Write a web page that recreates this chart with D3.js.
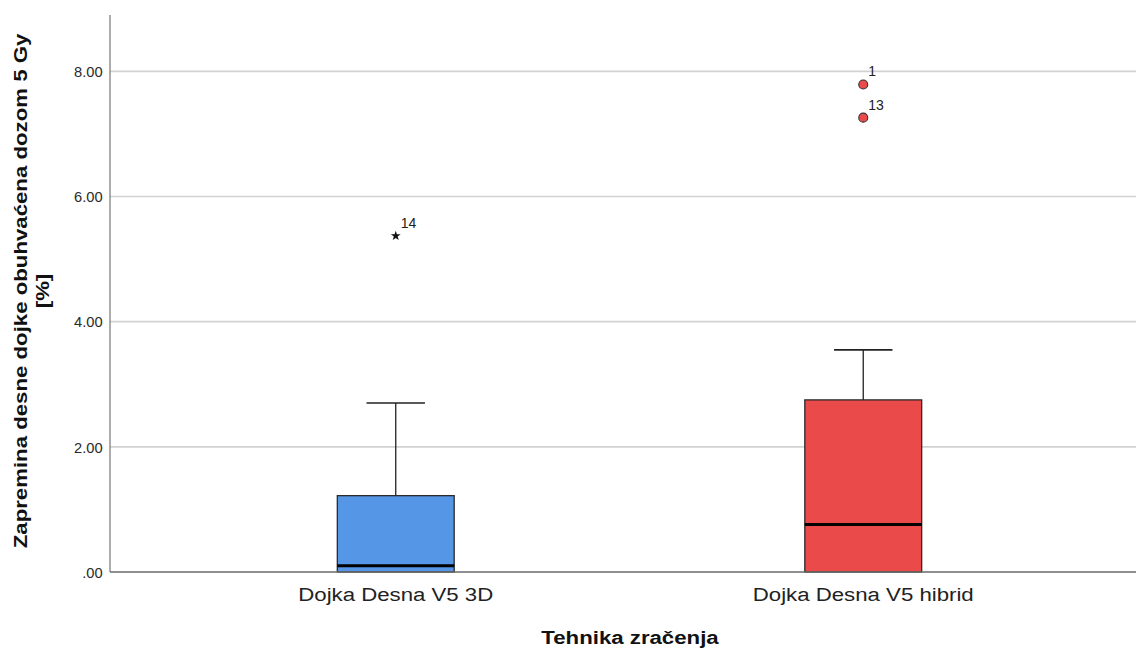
<!DOCTYPE html>
<html>
<head>
<meta charset="utf-8">
<script src="https://cdn.jsdelivr.net/npm/d3@7"></script>
<style>
  html, body { margin: 0; padding: 0; background: #fff; }
  svg { display: block; font-family: "Liberation Sans", Arial, sans-serif; }
</style>
</head>
<body>
<svg id="chart" width="1136" height="649"></svg>
<script>
// Groups (radiation technique) and their box-plot summaries
const categories = ["Dojka Desna V5 3D", "Dojka Desna V5 hibrid"];
const colors = ["#5596E6", "#EA4A4A"];
const whiskerLow = [0.00, 0.00];
const q1 = [0.00, 0.00];
const median = [0.10, 0.76];
const q3 = [1.22, 2.75];
const whiskerHigh = [2.70, 3.55];

// Outliers: group index, value, case label, kind (circle = outlier, star = extreme)
const outlierGroup = [0, 1, 1];
const outlierValue = [5.37, 7.79, 7.26];
const outlierLabel = ["14", "1", "13"];
const outlierKind = ["star", "circle", "circle"];

const yTicks = [0, 2, 4, 6, 8];
const yTickLabels = [".00", "2.00", "4.00", "6.00", "8.00"];

const yTitleLines = ["Zapremina desne dojke obuhvaćena dozom 5 Gy", "[%]"];
const xTitle = "Tehnika zračenja";

const W = 1136, H = 649;
const plot = { left: 110, right: 1136, top: 15, bottom: 572 };
const FONT = "'Liberation Sans', Arial, sans-serif";
const STRETCH = 1.17; // wide glyph rendering along the text direction

const svg = d3.select("#chart");

const y = d3.scaleLinear().domain([0, 8.9]).range([plot.bottom, plot.top]);
const x = d3.scaleBand().domain(categories).range([162, 162 + 2 * 467.5]).paddingInner(0).paddingOuter(0);
const boxW = x.bandwidth() * 0.25;
const capW = boxW / 2;

// Horizontal gridlines
svg.append("g")
  .selectAll("line")
  .data(yTicks.filter(d => d > 0))
  .join("line")
  .attr("x1", plot.left).attr("x2", plot.right)
  .attr("y1", d => y(d)).attr("y2", d => y(d))
  .attr("stroke", "#d2d2d2").attr("stroke-width", 1.6);

// Y axis with tick labels
const yAxis = d3.axisLeft(y)
  .tickValues(yTicks)
  .tickSize(0)
  .tickPadding(7)
  .tickFormat((d, i) => yTickLabels[i]);
const gy = svg.append("g").attr("transform", `translate(${plot.left},0)`).call(yAxis);
gy.select(".domain").remove();
gy.selectAll("text").attr("font-size", 14).attr("fill", "#2a2a2a")
  .attr("font-family", FONT)
  .attr("dy", "0.38em")
  .attr("transform", "scale(1.05,1)");

svg.append("line")
  .attr("x1", plot.left).attr("x2", plot.left)
  .attr("y1", plot.top).attr("y2", plot.bottom)
  .attr("stroke", "#808080").attr("stroke-width", 1.3);

// Boxes
const groups = svg.append("g").selectAll("g")
  .data(categories)
  .join("g");

groups.each(function(cat, i) {
  const g = d3.select(this);
  const cx = x(cat) + x.bandwidth() / 2;
  // upper whisker
  g.append("line")
    .attr("x1", cx).attr("x2", cx)
    .attr("y1", y(q3[i])).attr("y2", y(whiskerHigh[i]))
    .attr("stroke", "#222").attr("stroke-width", 1.3);
  g.append("line")
    .attr("x1", cx - capW / 2).attr("x2", cx + capW / 2)
    .attr("y1", y(whiskerHigh[i])).attr("y2", y(whiskerHigh[i]))
    .attr("stroke", "#222").attr("stroke-width", 1.6);
  // lower whisker
  if (q1[i] > whiskerLow[i]) {
    g.append("line")
      .attr("x1", cx).attr("x2", cx)
      .attr("y1", y(q1[i])).attr("y2", y(whiskerLow[i]))
      .attr("stroke", "#222").attr("stroke-width", 1.3);
  }
  // box
  g.append("rect")
    .attr("x", cx - boxW / 2)
    .attr("y", y(q3[i]))
    .attr("width", boxW)
    .attr("height", y(q1[i]) - y(q3[i]))
    .attr("fill", colors[i])
    .attr("stroke", "#2a2a2a").attr("stroke-width", 1.3);
  // median
  g.append("line")
    .attr("x1", cx - boxW / 2).attr("x2", cx + boxW / 2)
    .attr("y1", y(median[i])).attr("y2", y(median[i]))
    .attr("stroke", "#000").attr("stroke-width", 3);
});

// X axis line (drawn over box bottoms)
svg.append("line")
  .attr("x1", plot.left).attr("x2", plot.right)
  .attr("y1", plot.bottom).attr("y2", plot.bottom)
  .attr("stroke", "#6a6a6a").attr("stroke-width", 1.3);

// Category labels
const xAxis = d3.axisBottom(x).tickSize(0).tickPadding(14);
const gx = svg.append("g").attr("transform", `translate(0,${plot.bottom})`).call(xAxis);
gx.select(".domain").remove();
gx.selectAll("text").attr("font-size", 19).attr("fill", "#222")
  .attr("font-family", FONT)
  .attr("y", 0).attr("dy", 29)
  .attr("transform", `scale(${STRETCH},1)`);

// Outliers
const outliers = outlierValue.map((v, k) => ({
  v, g: outlierGroup[k], label: outlierLabel[k], kind: outlierKind[k]
}));
const og = svg.append("g");
outliers.forEach(o => {
  const cx = x(categories[o.g]) + x.bandwidth() / 2;
  const cy = y(o.v);
  if (o.kind === "circle") {
    og.append("circle")
      .attr("cx", cx).attr("cy", cy).attr("r", 4.5)
      .attr("fill", colors[o.g])
      .attr("stroke", "#333").attr("stroke-width", 1.1);
  } else {
    og.append("path")
      .attr("d", d3.symbol().type(d3.symbolStar).size(30)())
      .attr("transform", `translate(${cx},${cy})`)
      .attr("fill", "#111");
  }
  og.append("text")
    .attr("x", cx + 5).attr("y", cy - 8)
    .attr("font-size", 14).attr("fill", "#222")
    .text(o.label);
});

// Axis titles
const yTitle = svg.append("text")
  .attr("transform", `translate(27,291) rotate(-90) scale(${STRETCH},1)`)
  .attr("text-anchor", "middle")
  .attr("font-size", 19).attr("font-weight", "bold").attr("fill", "#111");
yTitle.selectAll("tspan")
  .data(yTitleLines)
  .join("tspan")
  .attr("x", 0)
  .attr("dy", (d, i) => i === 0 ? 0 : 22)
  .text(d => d);

svg.append("text")
  .attr("transform", `translate(630,644) scale(${STRETCH},1)`)
  .attr("text-anchor", "middle")
  .attr("font-size", 19).attr("font-weight", "bold").attr("fill", "#111")
  .text(xTitle);
</script>
</body>
</html>
